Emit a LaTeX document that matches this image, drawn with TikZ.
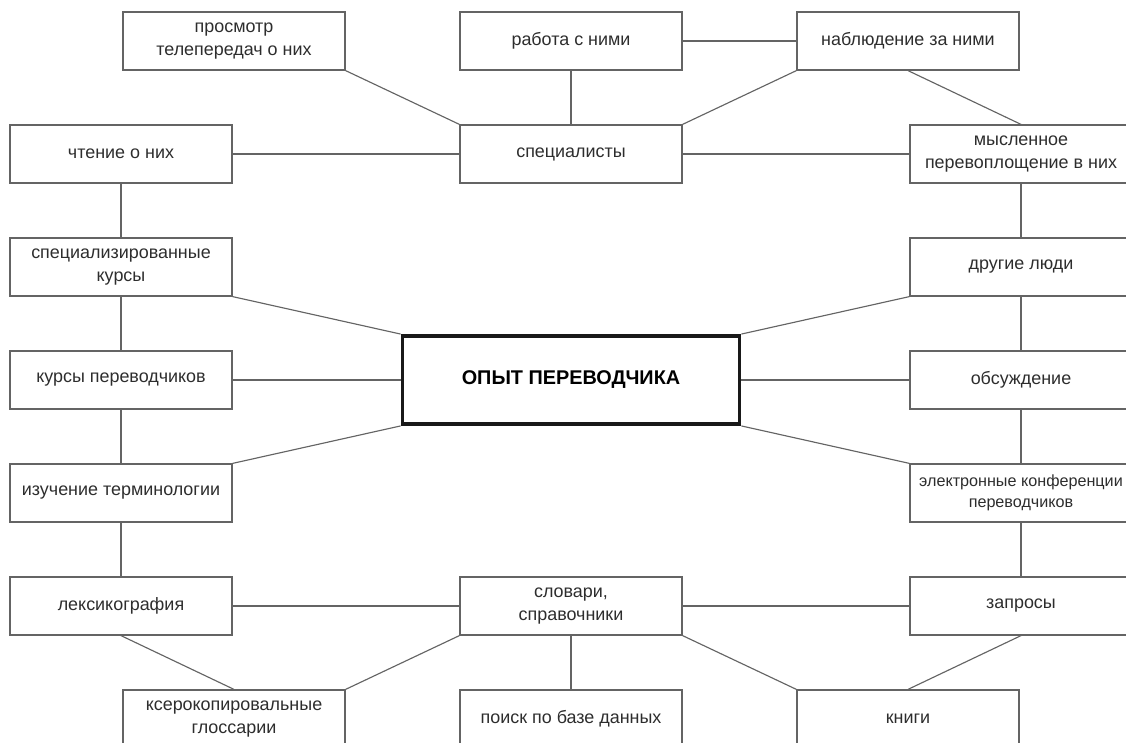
\documentclass[tikz,border=0pt]{standalone}
\usepackage{fontspec}
\setmainfont{Liberation Sans}
\usepackage{xcolor}
\definecolor{linegray}{RGB}{100,100,100}
\definecolor{textgray}{RGB}{45,45,45}

\begin{document}
\begin{tikzpicture}[
	box/.style={draw=linegray, line width=0.7pt, minimum width=4.44cm, minimum height=1.16cm, inner sep=0pt, align=center, text=textgray, font=\fontsize{10.2}{13.4}\selectfont},
	mainbox/.style={draw=black!90, line width=2.2pt, minimum width=6.74cm, minimum height=1.76cm, font=\bfseries\fontsize{11.3}{13}\selectfont},
	link/.style={linegray, line width=0.65pt}]
	\useasboundingbox (-11.42,-7.24) rectangle (11.10,7.6);
	\clip (-11.42,-7.24) rectangle (11.10,7.6);

	\node[mainbox] (opyt) at (0,0) {ОПЫТ ПЕРЕВОДЧИКА};

	% top
	\node[box] (prosmotr) at (-6.74,6.78) {просмотр\\телепередач о них};
	\node[box] (rabota) at (0,6.78) {работа с ними};
	\node[box] (nablud) at (6.74,6.78) {наблюдение за ними};
	\node[box] (chtenie) at (-9,4.52) {чтение о них};
	\node[box] (spec) at (0,4.52) {специалисты};
	\node[box] (mysl) at (9,4.52) {мысленное\\перевоплощение в них};

	% left column
	\node[box] (speckurs) at (-9,2.26) {специализированные\\курсы};
	\node[box] (kursy) at (-9,0) {курсы переводчиков};
	\node[box] (izuch) at (-9,-2.26) {изучение терминологии};

	% right column
	\node[box] (drugie) at (9,2.26) {другие люди};
	\node[box] (obsuzh) at (9,0) {обсуждение};
	\node[box, font=\fontsize{9.2}{12.2}\selectfont] (elkonf) at (9,-2.26) {электронные конференции\\переводчиков};

	% bottom
	\node[box] (leksik) at (-9,-4.52) {лексикография};
	\node[box] (slovari) at (0,-4.52) {словари,\\справочники};
	\node[box] (zaprosy) at (9,-4.52) {запросы};
	\node[box] (kserok) at (-6.74,-6.78) {ксерокопировальные\\глоссарии};
	\node[box] (poisk) at (0,-6.78) {поиск по базе данных};
	\node[box] (knigi) at (6.74,-6.78) {книги};

	\draw[link] (prosmotr.south east) -- (spec.north west);
	\draw[link] (rabota) -- (spec);
	\draw[link] (rabota) -- (nablud);
	\draw[link] (spec.north east) -- (nablud.south west);
	\draw[link] (nablud.south) -- (mysl.north);
	\draw[link] (chtenie) -- (spec) -- (mysl);

	\draw[link] (chtenie) -- (speckurs) -- (kursy) -- (izuch) -- (leksik);
	\draw[link] (mysl) -- (drugie) -- (obsuzh) -- (elkonf) -- (zaprosy);

	\draw[link] (speckurs.south east) -- (opyt.north west);
	\draw[link] (kursy) -- (opyt) -- (obsuzh);
	\draw[link] (izuch.north east) -- (opyt.south west);
	\draw[link] (drugie.south west) -- (opyt.north east);
	\draw[link] (elkonf.north west) -- (opyt.south east);

	\draw[link] (leksik) -- (slovari) -- (zaprosy);
	\draw[link] (leksik.south) -- (kserok.north);
	\draw[link] (slovari.south west) -- (kserok.north east);
	\draw[link] (slovari) -- (poisk);
	\draw[link] (slovari.south east) -- (knigi.north west);
	\draw[link] (zaprosy.south) -- (knigi.north);
\end{tikzpicture}
\end{document}
